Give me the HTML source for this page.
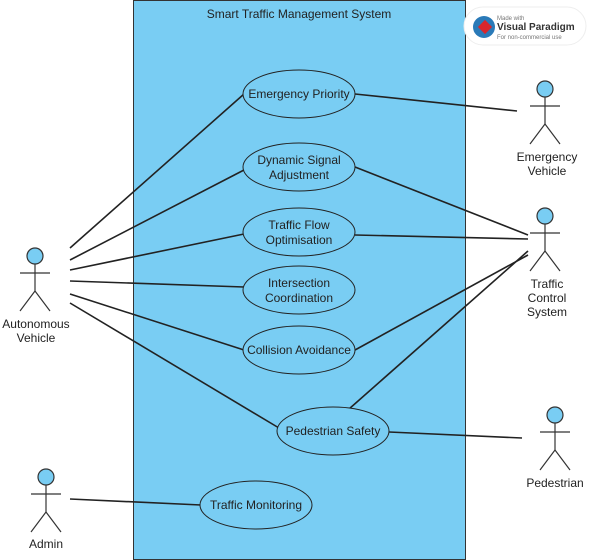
<!DOCTYPE html>
<html><head><style>body{margin:0;background:#fff}svg{display:block}text{font-family:"Liberation Sans",sans-serif;font-size:12px;fill:#222}</style></head><body>
<svg width="590" height="560" xmlns="http://www.w3.org/2000/svg">
<rect x="133.5" y="0.5" width="332" height="559" fill="#79CDF3" stroke="#333"/>
<text x="299" y="18" text-anchor="middle">Smart Traffic Management System</text>
<g>
<rect x="464" y="7" width="122" height="38" rx="19" fill="#fff" stroke="#eee"/>
<circle cx="484" cy="27" r="11" fill="#2a7ab8"/>
<rect x="480" y="22" width="10" height="10" fill="#d9262c" transform="rotate(45 485 27)"/>
<text x="497" y="20" style="font-size:6px;fill:#777">Made with</text>
<text x="497" y="30" style="font-size:10px;font-weight:bold;fill:#333">Visual Paradigm</text>
<text x="497" y="39" style="font-size:6px;fill:#777">For non-commercial use</text>
</g>
<g stroke="#222" stroke-width="1.6" fill="none">
<line x1="70" y1="248" x2="244" y2="94"/>
<line x1="70" y1="260" x2="244" y2="170"/>
<line x1="70" y1="270" x2="244" y2="234"/>
<line x1="70" y1="281" x2="244" y2="287"/>
<line x1="70" y1="294" x2="244" y2="350"/>
<line x1="70" y1="303" x2="279" y2="428"/>
<line x1="70" y1="499" x2="201" y2="505"/>
<line x1="355" y1="94" x2="517" y2="111"/>
<line x1="355" y1="167" x2="528" y2="235"/>
<line x1="355" y1="235" x2="528" y2="239"/>
<line x1="355" y1="350" x2="528" y2="255"/>
<line x1="349" y1="409" x2="528" y2="251"/>
<line x1="389" y1="432" x2="522" y2="438"/>
</g>
<g fill="#79CDF3" stroke="#222" stroke-width="1">
<ellipse cx="299" cy="94" rx="56" ry="24"/>
<ellipse cx="299" cy="167" rx="56" ry="24"/>
<ellipse cx="299" cy="232" rx="56" ry="24"/>
<ellipse cx="299" cy="290" rx="56" ry="24"/>
<ellipse cx="299" cy="350" rx="56" ry="24"/>
<ellipse cx="333" cy="431" rx="56" ry="24"/>
<ellipse cx="256" cy="505" rx="56" ry="24"/>
</g>
<g text-anchor="middle">
<text x="299" y="98">Emergency Priority</text>
<text x="299" y="164">Dynamic Signal</text><text x="299" y="179">Adjustment</text>
<text x="299" y="229">Traffic Flow</text><text x="299" y="244">Optimisation</text>
<text x="299" y="287">Intersection</text><text x="299" y="302">Coordination</text>
<text x="299" y="354">Collision Avoidance</text>
<text x="333" y="435">Pedestrian Safety</text>
<text x="256" y="509">Traffic Monitoring</text>
</g>
<defs><g id="a" stroke="#333" stroke-width="1.2"><circle cx="0" cy="0" r="8" fill="#79CDF3"/><line x1="0" y1="8" x2="0" y2="35" fill="none"/><line x1="-15" y1="17" x2="15" y2="17"/><line x1="0" y1="35" x2="-15" y2="55"/><line x1="0" y1="35" x2="15" y2="55"/></g></defs>
<use href="#a" x="35" y="256"/>
<use href="#a" x="545" y="89"/>
<use href="#a" x="545" y="216"/>
<use href="#a" x="555" y="415"/>
<use href="#a" x="46" y="477"/>
<g text-anchor="middle">
<text x="36" y="328">Autonomous</text><text x="36" y="342">Vehicle</text>
<text x="547" y="161">Emergency</text><text x="547" y="175">Vehicle</text>
<text x="547" y="288">Traffic</text><text x="547" y="302">Control</text><text x="547" y="316">System</text>
<text x="555" y="487">Pedestrian</text>
<text x="46" y="548">Admin</text>
</g>
</svg>
</body></html>
